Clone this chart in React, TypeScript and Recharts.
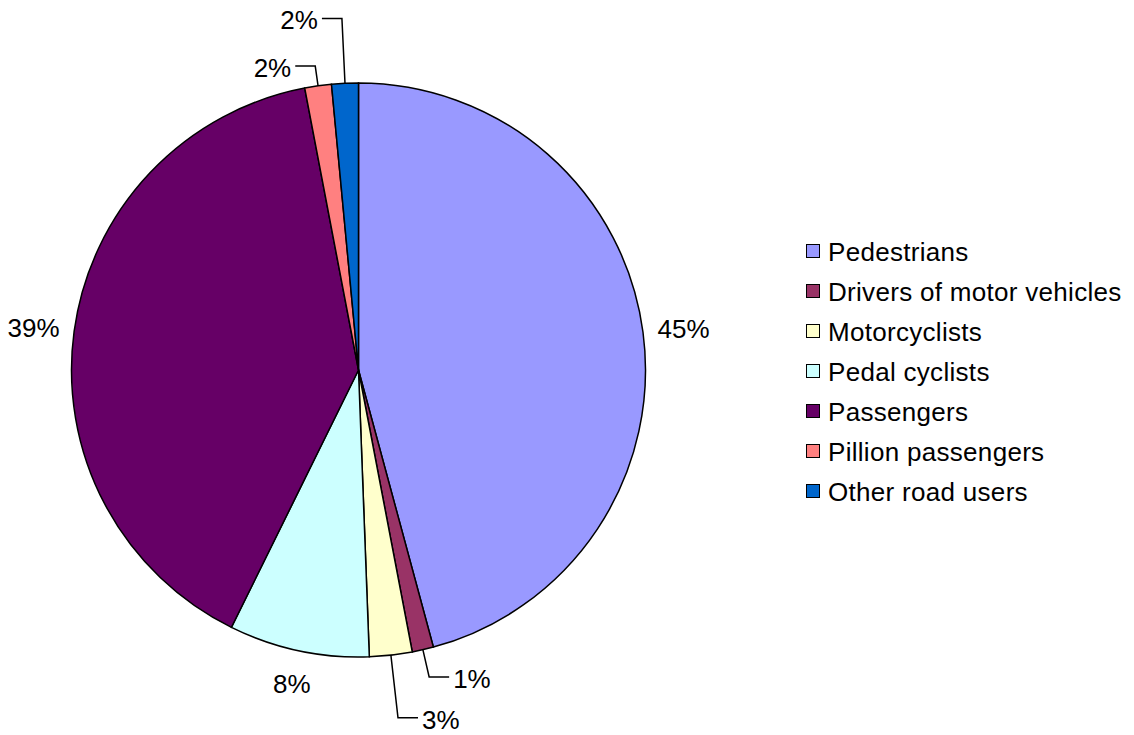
import React from "react";
import { PieChart, Pie, Cell, Legend } from "recharts";

const CATEGORIES = [
  "Pedestrians",
  "Drivers of motor vehicles",
  "Motorcyclists",
  "Pedal cyclists",
  "Passengers",
  "Pillion passengers",
  "Other road users",
];

const SHARES = [45.8, 1.2, 2.4, 7.9, 39.7, 1.5, 1.5];

const LABELS = ["45%", "1%", "3%", "8%", "39%", "2%", "2%"];

const COLORS = [
  "#9999FF",
  "#993366",
  "#FFFFCC",
  "#CCFFFF",
  "#660066",
  "#FF8080",
  "#0066CC",
];

// leader line length (radial part) for the thin slices whose labels were dragged out
const LEADERS: Record<number, number> = { 1: 28, 2: 63, 5: 20, 6: 65 };

const data = CATEGORIES.map((name, i) => ({ name, value: SHARES[i] }));

const FONT = "'Liberation Sans', Arial, sans-serif";
const FONT_SIZE = 26;
const RADIAN = Math.PI / 180;

function renderLabel(props: any) {
  const { cx, cy, midAngle, outerRadius, index } = props;
  const dx = Math.cos(-midAngle * RADIAN);
  const dy = Math.sin(-midAngle * RADIAN);
  const text = LABELS[index];
  const ax = cx + outerRadius * dx;
  const ay = cy + outerRadius * dy;

  const leader = LEADERS[index];
  if (leader) {
    const ex = ax + leader * dx;
    const ey = ay + leader * dy;
    const right = dy > 0;
    const hx = ex + (right ? 20 : -20);
    return (
      <g>
        <polyline
          points={`${ax},${ay} ${ex},${ey} ${hx},${ey}`}
          fill="none"
          stroke="#000"
          strokeWidth={1.5}
        />
        <text
          x={hx + (right ? 4 : -4)}
          y={ey + 2}
          textAnchor={right ? "start" : "end"}
          dominantBaseline="central"
          fontFamily={FONT}
          fontSize={FONT_SIZE}
          fill="#000"
        >
          {text}
        </text>
      </g>
    );
  }

  const w = text.length * FONT_SIZE * 0.6;
  const h = FONT_SIZE;
  const off = 16 + Math.abs(dx) * (w / 2) + Math.abs(dy) * (h / 2);
  return (
    <text
      x={ax + off * dx}
      y={ay + off * dy + 2}
      textAnchor="middle"
      dominantBaseline="central"
      fontFamily={FONT}
      fontSize={FONT_SIZE}
      fill="#000"
    >
      {text}
    </text>
  );
}

function LegendContent(props: any) {
  const items = props.payload || [];
  return (
    <div style={{ fontFamily: FONT, fontSize: FONT_SIZE, color: "#000" }}>
      {items.map((item: any, i: number) => (
        <div
          key={i}
          style={{ height: 40, lineHeight: "40px", display: "flex", alignItems: "center", whiteSpace: "nowrap" }}
        >
          <span
            style={{
              display: "inline-block",
              width: 12,
              height: 12,
              background: COLORS[i],
              border: "1.5px solid #000",
              marginRight: 8,
              marginTop: -3,
            }}
          />
          <span style={{ letterSpacing: 0.3 }}>{CATEGORIES[i]}</span>
        </div>
      ))}
    </div>
  );
}

export default function App() {
  return (
    <div style={{ position: "absolute", left: 0, top: 0, width: 1134, height: 735, background: "#fff" }}>
      <PieChart width={1134} height={735} margin={{ top: 0, right: 0, bottom: 0, left: 0 }}>
        <Pie
          data={data}
          dataKey="value"
          nameKey="name"
          cx={358.5}
          cy={370}
          outerRadius={287}
          startAngle={90}
          endAngle={-270}
          stroke="#000"
          strokeWidth={1.5}
          labelLine={false}
          label={renderLabel}
          isAnimationActive={false}
        >
          {data.map((d, i) => (
            <Cell key={d.name} fill={COLORS[i]} />
          ))}
        </Pie>
        <Legend
          content={<LegendContent />}
          wrapperStyle={{ position: "absolute", left: 806, top: 232, width: 328 }}
        />
      </PieChart>
    </div>
  );
}
